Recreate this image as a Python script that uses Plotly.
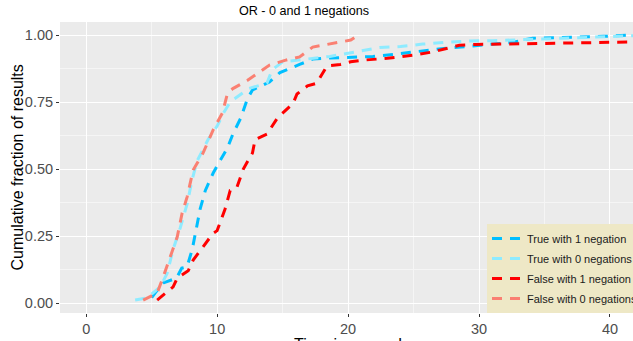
import plotly.graph_objects as go

# ---- data ----
series_names = ["True with 1 negation", "True with 0 negations",
                "False with 1 negation", "False with 0 negations"]

t1_x = [5.0, 5.3, 5.9, 6.9, 7.3, 7.7, 8.1, 8.3, 8.7, 9.1, 9.7, 10.1, 10.8, 11.2, 11.8, 12.3, 12.7,
        14.0, 14.8, 16.3, 17.3, 18.6, 20.4, 21.9, 23.7, 25.5, 27.3, 29.1, 31.0, 32.6, 34.1, 37.7,
        39.5, 41.3, 43.0]
t1_y = [0.02, 0.04, 0.075, 0.093, 0.13, 0.135, 0.20, 0.25, 0.35, 0.42, 0.485, 0.52, 0.58, 0.63, 0.69,
        0.76, 0.795, 0.825, 0.86, 0.89, 0.91, 0.914, 0.918, 0.92, 0.929, 0.94, 0.95, 0.957, 0.965,
        0.973, 0.988, 0.992, 0.995, 0.999, 1.0]

t0_x = [3.74, 4.66, 5.65, 6.18, 6.64, 7.18, 7.71, 8.09, 8.47, 9.31, 10.0, 10.5, 11.0, 11.6, 12.4,
        13.8, 14.2, 15.0, 17.3, 18.6, 20.7, 22.4, 24.0, 25.7, 27.6, 29.3, 31.1, 32.9, 34.7, 36.4,
        38.2, 40.0, 41.5, 43.0]
t0_y = [0.011, 0.019, 0.06, 0.11, 0.20, 0.28, 0.37, 0.46, 0.53, 0.61, 0.66, 0.71, 0.75, 0.77, 0.80,
        0.82, 0.87, 0.90, 0.913, 0.92, 0.938, 0.953, 0.957, 0.966, 0.973, 0.978, 0.979, 0.981,
        0.985, 0.988, 0.99, 0.994, 0.997, 1.0]

f1_x = [5.42, 5.88, 6.64, 6.95, 7.79, 8.17, 8.93, 9.69, 10.0, 10.6, 11.0, 11.5, 12.0, 12.7, 12.9,
        13.8, 14.6, 15.8, 16.1, 16.9, 17.6, 18.1, 18.4, 19.4, 20.2, 21.1, 23.0, 25.0, 26.5, 28.5,
        29.8, 31.8, 34.4, 37.0, 39.0, 41.1, 43.0]
f1_y = [0.011, 0.03, 0.06, 0.093, 0.12, 0.16, 0.21, 0.26, 0.27, 0.35, 0.42, 0.43, 0.50, 0.56, 0.61,
        0.63, 0.69, 0.745, 0.78, 0.81, 0.82, 0.863, 0.885, 0.89, 0.90, 0.906, 0.913, 0.925, 0.937,
        0.962, 0.965, 0.966, 0.968, 0.970, 0.974, 0.975, 0.975]

f0_x = [4.35, 5.42, 5.88, 6.41, 6.95, 7.33, 7.71, 8.17, 8.93, 9.69, 10.4, 10.8, 11.2, 12.3, 12.7,
        13.5, 14.0, 15.3, 16.3, 17.3, 18.4, 19.4, 20.2, 20.8]
f0_y = [0.011, 0.037, 0.097, 0.17, 0.246, 0.336, 0.396, 0.496, 0.56, 0.645, 0.709, 0.784, 0.80,
        0.83, 0.843, 0.87, 0.888, 0.907, 0.918, 0.955, 0.965, 0.972, 0.981, 1.0]

x_ticks = [0, 10, 20, 30, 40]
y_ticks = [0.0, 0.25, 0.5, 0.75, 1.0]
y_tick_text = ["0.00", "0.25", "0.50", "0.75", "1.00"]

colors = ["#00BFFF", "#8EEBFF", "#FF0000", "#FA8072"]

# ---- figure ----
W, H = 633, 341
ML, MR, MT, MB = 60, 0, 22, 28
PW, PH = W - ML - MR, H - MT - MB
fig = go.Figure()
for i, (name, xs, ys, col) in enumerate(zip(series_names, [t1_x, t0_x, f1_x, f0_x],
                                            [t1_y, t0_y, f1_y, f0_y], colors)):
    fig.add_trace(go.Scatter(x=xs, y=ys, mode="lines", name=name, legendgroup=f"g{i}",
                             line=dict(color=col, width=3, dash="10px,8px")))

tick_font = dict(family="Liberation Sans, Arial, sans-serif", size=14.5, color="#4D4D4D")

fig.update_layout(
    width=W, height=H,
    margin=dict(l=ML, r=MR, t=MT, b=MB, autoexpand=False),
    paper_bgcolor="white",
    plot_bgcolor="#EBEBEB",
    font=dict(family="Liberation Sans, Arial, sans-serif", color="black"),
    title=dict(text="OR - 0 and 1 negations", x=304 / W, xanchor="center",
               y=1 - 11 / H, yanchor="middle", font=dict(size=12.6, color="black")),
    xaxis=dict(range=[-2.0, 41.76], tickvals=x_ticks, ticks="outside", ticklen=3,
               tickcolor="#333333", tickwidth=1, tickfont=tick_font,
               showgrid=True, gridcolor="white", gridwidth=1.1, zeroline=False,
               showline=False,
               minor=dict(dtick=5, tick0=5, showgrid=True, gridcolor="#F5F5F5", gridwidth=0.5)),
    yaxis=dict(range=[-0.0373, 1.0485], tickvals=y_ticks, ticktext=y_tick_text,
               ticks="outside", ticklen=3, tickcolor="#333333", tickwidth=1, tickfont=tick_font,
               showgrid=True, gridcolor="white", gridwidth=1.1, zeroline=False, showline=False,
               minor=dict(dtick=0.25, tick0=0.125, showgrid=True, gridcolor="#F5F5F5",
                          gridwidth=0.5)),
    legend=dict(x=(487 - ML) / PW, xanchor="left",
                y=0, yanchor="bottom",
                bgcolor="#EEE8C6", borderwidth=0,
                font=dict(size=11, color="#1A1A1A"),
                itemwidth=30, tracegroupgap=1),
    showlegend=True,
)

# y-axis title
fig.add_annotation(text="Cumulative fraction of results", xref="paper", yref="paper",
                   x=(17 - ML) / PW, y=0.5, xanchor="center", yanchor="middle",
                   textangle=-90, showarrow=False, font=dict(size=16, color="black"))

# x-axis title sits mostly below the visible window
fig.add_annotation(text="Time in seconds", xref="paper", yref="paper",
                   x=(352 - ML) / PW, y=-(334 - (H - MB)) / PH,
                   xanchor="center", yanchor="top", showarrow=False,
                   font=dict(size=16, color="black"))

fig.write_html("out.html")
